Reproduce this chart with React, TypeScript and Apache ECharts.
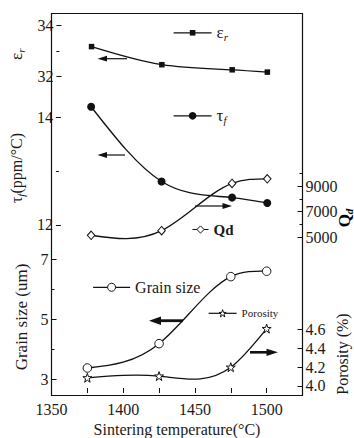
import React, { useEffect, useRef } from 'react';
import * as echarts from 'echarts';

// ---- data ----
const temperatures = [1375, 1425, 1475, 1500];
const epsilonR = [33.18, 32.47, 32.27, 32.18];
const tauF = [14.2, 12.81, 12.51, 12.41];
const qdValues = [5160, 5520, 9210, 9570];
const grainSize = [3.38, 4.19, 6.42, 6.6];
const porosity = [4.086, 4.104, 4.198, 4.607];

// ---- tick values ----
const epsTicks = [32, 34];
const epsMinorTicks = [33];
const tauTicks = [12, 14];
const tauMinorTicks = [13];
const qdTicks = [5000, 7000, 9000];
const qdMinorTicks = [6000, 8000, 10000];
const grainTicks = [3, 5, 7];
const grainMinorTicks = [4, 6];
const porosityTicks = [4.0, 4.2, 4.4, 4.6];

const FONT = 'Liberation Serif';
const INK = '#111';
const TXT = '#1a1a1a';

function naturalSplinePath(pts: number[][]): string {
  const n = pts.length;
  const xs = pts.map((p) => p[0]);
  const ys = pts.map((p) => p[1]);
  const h: number[] = [];
  const s: number[] = [];
  for (let i = 0; i < n - 1; i++) {
    h.push(xs[i + 1] - xs[i]);
    s.push((ys[i + 1] - ys[i]) / h[i]);
  }
  const M = new Array(n).fill(0);
  const m = n - 2;
  if (m > 0) {
    const a: number[] = [], b: number[] = [], c: number[] = [], d: number[] = [];
    for (let k = 0; k < m; k++) {
      const i = k + 1;
      a.push(h[i - 1]);
      b.push(2 * (h[i - 1] + h[i]));
      c.push(h[i]);
      d.push(6 * (s[i] - s[i - 1]));
    }
    for (let k = 1; k < m; k++) {
      const w = a[k] / b[k - 1];
      b[k] -= w * c[k - 1];
      d[k] -= w * d[k - 1];
    }
    const sol = new Array(m).fill(0);
    sol[m - 1] = d[m - 1] / b[m - 1];
    for (let k = m - 2; k >= 0; k--) sol[k] = (d[k] - c[k] * sol[k + 1]) / b[k];
    for (let k = 0; k < m; k++) M[k + 1] = sol[k];
  }
  let path = `M${xs[0]},${ys[0]}`;
  for (let i = 0; i < n - 1; i++) {
    const d0 = s[i] - (h[i] * (2 * M[i] + M[i + 1])) / 6;
    const d1 = s[i] + (h[i] * (M[i] + 2 * M[i + 1])) / 6;
    const t = h[i] / 3;
    path += ` C${xs[i] + t},${ys[i] + d0 * t} ${xs[i + 1] - t},${ys[i + 1] - d1 * t} ${xs[i + 1]},${ys[i + 1]}`;
  }
  return path;
}

function curveSeries(name: string, xAxisIndex: number, yAxisIndex: number, values: number[]) {
  return {
    type: 'custom',
    name: name + ' curve',
    xAxisIndex,
    yAxisIndex,
    silent: true,
    clip: false,
    z: 1,
    data: temperatures.map((t, i) => [t, values[i]]),
    encode: { x: 0, y: 1 },
    renderItem: (params: any, api: any) => {
      if (params.dataIndex !== 0) return null;
      const pts = temperatures.map((t, i) => api.coord([t, values[i]]));
      return {
        type: 'path',
        shape: { pathData: naturalSplinePath(pts) },
        style: { fill: 'none', stroke: INK, lineWidth: 1.3 },
      };
    },
  };
}

function markerSeries(name: string, xAxisIndex: number, yAxisIndex: number, values: number[], symbol: string, size: any, hollow: boolean) {
  return {
    type: 'line',
    name,
    xAxisIndex,
    yAxisIndex,
    z: 3,
    clip: false,
    data: temperatures.map((t, i) => [t, values[i]]),
    symbol,
    symbolSize: size,
    showAllSymbol: true,
    lineStyle: { color: INK, width: 1.2, opacity: 0 },
    itemStyle: hollow
      ? { color: '#fff', borderColor: INK, borderWidth: 1 }
      : { color: INK, borderColor: INK, borderWidth: 0 },
  };
}

function yAxis(gridIndex: number, position: string, min: number, max: number, ticks: number[], tickLen: number, withLabels: boolean, fmt?: (v: number) => string) {
  return {
    type: 'value',
    gridIndex,
    position,
    min,
    max,
    axisLine: { show: false },
    splitLine: { show: false },
    axisTick: { show: true, inside: true, length: tickLen, customValues: ticks, lineStyle: { color: INK, width: 1 } },
    axisLabel: withLabels
      ? { show: true, customValues: ticks, margin: 3, fontSize: 16, fontFamily: FONT, color: TXT, formatter: fmt || ((v: number) => String(v)) }
      : { show: false },
  };
}

function arrowEls(xStart: number, xTip: number, y: number, lw: number, headLen: number, headHalf: number) {
  const dir = xTip > xStart ? 1 : -1;
  const base = xTip - dir * headLen;
  return [
    { type: 'line', silent: true, z: 20, shape: { x1: xStart, y1: y, x2: base + dir * 1, y2: y }, style: { stroke: INK, lineWidth: lw } },
    { type: 'polygon', silent: true, z: 20, shape: { points: [[xTip, y], [base, y - headHalf], [base, y + headHalf]] }, style: { fill: INK } },
  ];
}

const STAR = 'path://M12,0 L14.9,8.6 L24,8.6 L16.6,14 L19.4,22.8 L12,17.4 L4.6,22.8 L7.4,14 L0,8.6 L9.1,8.6 Z';

export default function App() {
  const ref = useRef<HTMLDivElement>(null);
  useEffect(() => {
    if (!ref.current) return;
    const chart = echarts.init(ref.current, null, { renderer: 'svg' });
    const legendBase = {
      orient: 'horizontal',
      padding: 0,
      selectedMode: false,
      itemGap: 0,
      lineStyle: { opacity: 1, width: 1.2, color: INK },
    };
    const hollowLegendStyle = { color: '#fff', borderColor: INK, borderWidth: 1 };
    const subRich = (size: number, bold: boolean) => ({
      a: { fontSize: size, fontFamily: FONT, color: TXT, lineHeight: 20, fontWeight: bold ? 'bold' : 'normal' },
      b: { fontSize: 11, fontFamily: FONT, color: TXT, fontStyle: 'italic', lineHeight: 20, verticalAlign: 'bottom', fontWeight: bold ? 'bold' : 'normal' },
    });
    const option: any = {
      animation: false,
      backgroundColor: '#fff',
      grid: [
        { left: 51.5, right: 51.5, top: 13.5, height: 81.5 },
        { left: 51.5, right: 51.5, top: 95, height: 146 },
        { left: 51.5, right: 51.5, top: 241, height: 154.5 },
      ],
      xAxis: [
        { type: 'value', gridIndex: 0, min: 1350, max: 1525, show: false },
        { type: 'value', gridIndex: 1, min: 1350, max: 1525, show: false },
        {
          type: 'value',
          gridIndex: 2,
          position: 'bottom',
          min: 1350,
          max: 1525,
          interval: 25,
          axisLine: { show: false },
          splitLine: { show: false },
          axisTick: { show: true, inside: true, length: 5, lineStyle: { color: INK, width: 1 } },
          axisLabel: {
            margin: 8,
            fontSize: 16,
            fontFamily: FONT,
            color: TXT,
            formatter: (v: number) => (v % 50 === 0 ? String(v) : ''),
          },
          name: 'Sintering temperature(°C)',
          nameLocation: 'middle',
          nameGap: 28,
          nameTextStyle: { fontSize: 16, fontFamily: FONT, color: TXT },
        },
      ],
      yAxis: [
        {
          ...yAxis(0, 'left', 31.282, 34.478, epsTicks, 5, true),
          name: '{a|ε}{b|r}',
          nameLocation: 'middle',
          nameGap: 22,
          nameTextStyle: { rich: subRich(17, false) },
        },
        yAxis(0, 'left', 31.282, 34.478, epsMinorTicks, 3, false),
        {
          ...yAxis(1, 'left', 11.7023, 14.4186, tauTicks, 5, true),
          name: '{a|τ}{b|f}{a|(ppm/°C)}',
          nameLocation: 'middle',
          nameGap: 17,
          nameTextStyle: { rich: subRich(16, false) },
        },
        yAxis(1, 'left', 11.7023, 14.4186, tauMinorTicks, 3, false),
        yAxis(1, 'right', 4711, 16117, qdTicks, 5, true),
        yAxis(1, 'right', 4711, 16117, qdMinorTicks, 3, false),
        {
          ...yAxis(2, 'left', 2.5483, 7.6056, grainTicks, 5, true),
          name: 'Grain size (um)',
          nameLocation: 'middle',
          nameGap: 19,
          nameTextStyle: { fontSize: 17, fontFamily: FONT, color: TXT },
        },
        yAxis(2, 'left', 2.5483, 7.6056, grainMinorTicks, 3, false),
        yAxis(2, 'right', 3.925, 5.534, porosityTicks, 5, true, (v: number) => v.toFixed(1)),
      ],
      legend: [
        {
          ...legendBase,
          data: ['εr'],
          left: 173,
          top: 24.3,
          itemWidth: 38,
          itemHeight: 7,
          formatter: () => '{a|ε}{b|r}',
          textStyle: { rich: subRich(17, false) },
        },
        {
          ...legendBase,
          data: ['τf'],
          left: 173,
          top: 107.3,
          itemWidth: 38,
          itemHeight: 9.5,
          formatter: () => '{a|τ}{b|f}',
          textStyle: { rich: subRich(17, false) },
        },
        {
          ...legendBase,
          data: ['Qd'],
          left: 192,
          top: 222,
          itemWidth: 16,
          itemHeight: 9,
          lineStyle: { opacity: 1, width: 1, color: INK },
          itemStyle: hollowLegendStyle,
          textStyle: { fontSize: 15, fontFamily: FONT, fontWeight: 'bold', color: TXT },
        },
        {
          ...legendBase,
          data: ['Grain size'],
          left: 92.5,
          top: 279.3,
          itemWidth: 37,
          itemHeight: 10,
          itemStyle: hollowLegendStyle,
          textStyle: { fontSize: 16, fontFamily: FONT, color: TXT },
        },
        {
          ...legendBase,
          data: ['Porosity'],
          left: 208,
          top: 307.8,
          itemWidth: 28,
          itemHeight: 9,
          itemStyle: hollowLegendStyle,
          textStyle: { fontSize: 11, fontFamily: FONT, color: TXT },
        },
      ],
      series: [
        curveSeries('εr', 0, 0, epsilonR),
        markerSeries('εr', 0, 0, epsilonR, 'rect', 5.5, false),
        curveSeries('τf', 1, 2, tauF),
        markerSeries('τf', 1, 2, tauF, 'circle', 8, false),
        curveSeries('Qd', 1, 4, qdValues),
        markerSeries('Qd', 1, 4, qdValues, 'diamond', [7.5, 8.5], true),
        curveSeries('Grain size', 2, 6, grainSize),
        markerSeries('Grain size', 2, 6, grainSize, 'circle', 8.5, true),
        curveSeries('Porosity', 2, 8, porosity),
        markerSeries('Porosity', 2, 8, porosity, STAR, 9, true),
      ],
      graphic: [
        {
          type: 'rect',
          silent: true,
          z: 15,
          shape: { x: 51.5, y: 13.5, width: 251, height: 382 },
          style: { fill: 'none', stroke: INK, lineWidth: 1.2 },
        },
        ...arrowEls(127, 97.5, 58.7, 1.2, 9.5, 2.9),
        ...arrowEls(125, 97.5, 155, 1.2, 9.5, 2.9),
        ...arrowEls(195, 232, 206, 1.2, 9.5, 2.9),
        ...arrowEls(183, 149, 320.7, 2.8, 12, 4.2),
        ...arrowEls(250, 278, 352.3, 2.6, 11.5, 3.6),
        {
          type: 'text',
          silent: true,
          x: 344.5,
          y: 218,
          rotation: Math.PI / 2,
          style: {
            text: '{a|Q}{b|d}',
            align: 'center',
            verticalAlign: 'middle',
            rich: subRich(17, true),
          },
        },
        {
          type: 'text',
          silent: true,
          x: 342.5,
          y: 354,
          rotation: Math.PI / 2,
          style: {
            text: 'Porosity (%)',
            align: 'center',
            verticalAlign: 'middle',
            fontSize: 16,
            fontFamily: FONT,
            fill: TXT,
          },
        },
      ],
    };
    chart.setOption(option);
    return () => chart.dispose();
  }, []);
  return <div ref={ref} style={{ position: 'absolute', left: 0, top: 0, width: 354, height: 438 }} />;
}
